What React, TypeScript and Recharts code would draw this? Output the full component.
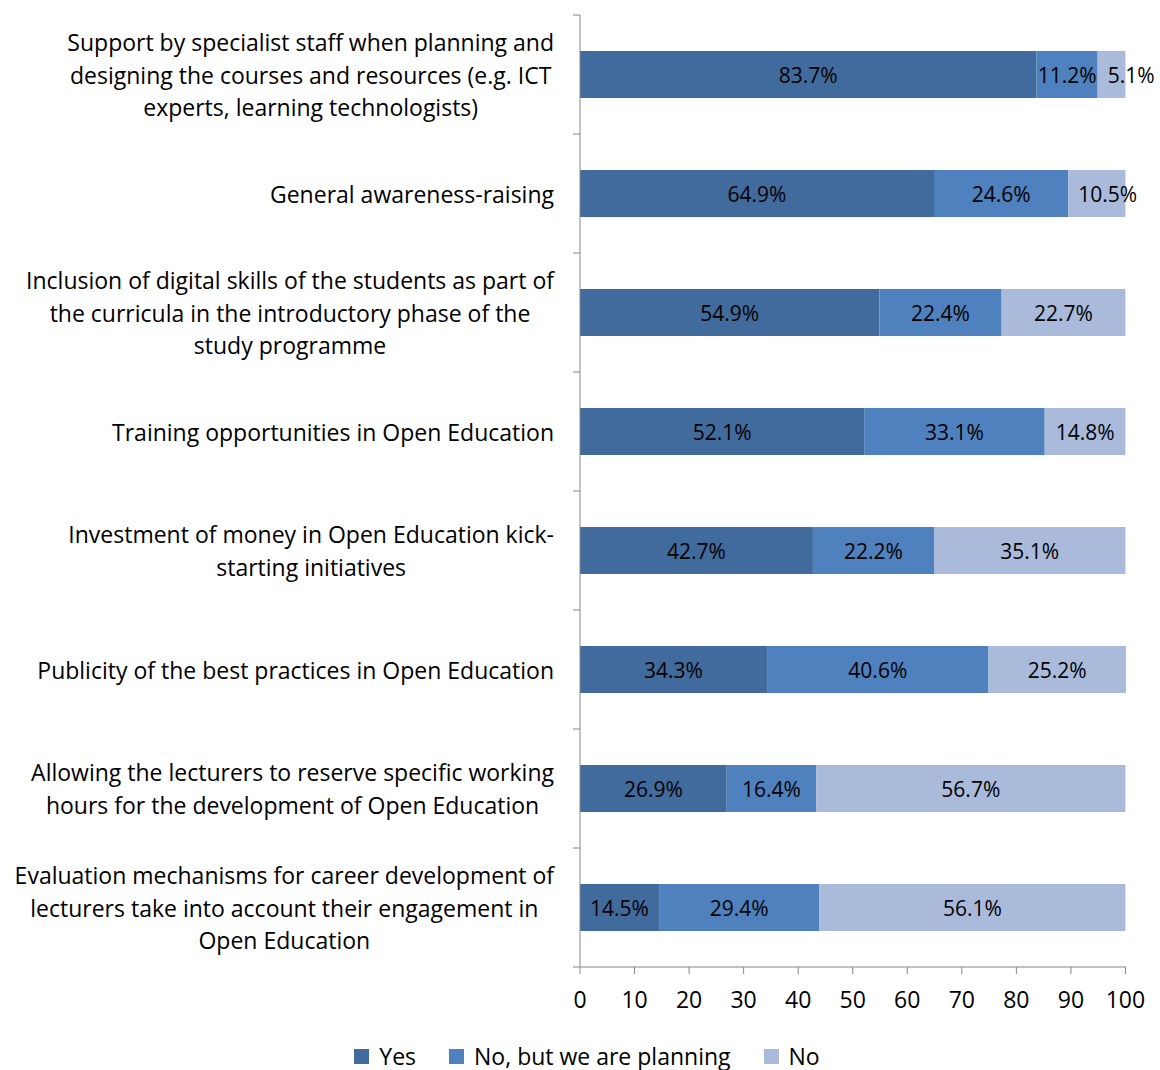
import { BarChart, Bar, XAxis, YAxis, Legend, LabelList } from "recharts";

const categories = [
  "Support by specialist staff when planning and\ndesigning the courses and resources (e.g. ICT\nexperts, learning technologists)",
  "General awareness-raising",
  "Inclusion of digital skills of the students as part of\nthe curricula in the introductory phase of the\nstudy programme",
  "Training opportunities in Open Education",
  "Investment of money in Open Education kick-\nstarting initiatives",
  "Publicity of the best practices in Open Education",
  "Allowing the lecturers to reserve specific working\nhours for the development of Open Education",
  "Evaluation mechanisms for career development of\nlecturers take into account their engagement in\nOpen Education",
];

const yes = [83.7, 64.9, 54.9, 52.1, 42.7, 34.3, 26.9, 14.5];
const planning = [11.2, 24.6, 22.4, 33.1, 22.2, 40.6, 16.4, 29.4];
const no = [5.1, 10.5, 22.7, 14.8, 35.1, 25.2, 56.7, 56.1];

const xTicks = [0, 10, 20, 30, 40, 50, 60, 70, 80, 90, 100];

const series = [
  { key: "yes", name: "Yes", color: "#426b9d" },
  { key: "planning", name: "No, but we are planning", color: "#4e81bd" },
  { key: "no", name: "No", color: "#a9badb" },
];

const data = categories.map((name, i) => ({
  name,
  yes: yes[i],
  planning: planning[i],
  no: no[i],
}));

const FONT = '"Open Sans", sans-serif';
const TEXT_SIZE = 23;
const LABEL_SIZE = 21;
const PLOT_TOP = 15;
const PLOT_BOTTOM = 967;
const BAND = (PLOT_BOTTOM - PLOT_TOP) / categories.length;
const AXIS_GRAY = "#868686";

let ctx: CanvasRenderingContext2D | null = null;
const measure = (s: string, size: number) => {
  if (!ctx) ctx = document.createElement("canvas").getContext("2d");
  if (!ctx) return s.length * size * 0.55;
  ctx.font = `${size}px "Open Sans"`;
  return ctx.measureText(s).width;
};

const CategoryTick = (props: any) => {
  const { x, y, payload, index } = props;
  const lines: string[] = String(payload.value).split("\n");
  const maxW = Math.max(...lines.map((l) => measure(l, TEXT_SIZE)));
  const cx = x - maxW / 2;
  const axisX = x + 26;
  return (
    <g>
      <line x1={axisX - 7} x2={axisX} y1={y - BAND / 2} y2={y - BAND / 2} stroke={AXIS_GRAY} />
      {index === categories.length - 1 && (
        <line x1={axisX - 7} x2={axisX} y1={y + BAND / 2} y2={y + BAND / 2} stroke={AXIS_GRAY} />
      )}
      {lines.map((l, i) => (
        <text
          key={i}
          x={cx}
          y={y + (i - (lines.length - 1) / 2) * 32.5}
          textAnchor="middle"
          dominantBaseline="central"
          fontSize={TEXT_SIZE}
          fontFamily={FONT}
          fill="#000"
        >
          {l}
        </text>
      ))}
    </g>
  );
};

// centred value label; a segment too narrow for its text gets it pushed past the bar end
const ValueLabel = (props: any) => {
  const { x, y, width, height, value } = props;
  const txt = `${Number(value).toFixed(1)}%`;
  const w = measure(txt, LABEL_SIZE);
  const narrow = width < w;
  return (
    <text
      x={narrow ? x + 10 : x + width / 2}
      y={y + height / 2}
      textAnchor={narrow ? "start" : "middle"}
      dominantBaseline="central"
      fontSize={LABEL_SIZE}
      fontFamily={FONT}
      fill="#000"
    >
      {txt}
    </text>
  );
};

const LegendContent = () => (
  <div
    style={{
      display: "flex",
      justifyContent: "center",
      alignItems: "center",
      gap: 33,
      fontFamily: FONT,
      fontSize: TEXT_SIZE,
      color: "#000",
      paddingTop: 10,
      paddingLeft: 48,
    }}
  >
    {series.map((s) => (
      <span key={s.key} style={{ display: "flex", alignItems: "center" }}>
        <span
          style={{ width: 15, height: 15, background: s.color, marginRight: 10, display: "inline-block" }}
        />
        {s.name}
      </span>
    ))}
  </div>
);

export default function App() {
  return (
    <div style={{ position: "absolute", left: 0, top: 0, background: "#fff" }}>
      <BarChart
        width={1160}
        height={1070}
        data={data}
        layout="vertical"
        margin={{ top: PLOT_TOP, right: 34, bottom: 0, left: 0 }}
        barSize={47}
      >
        <XAxis
          type="number"
          domain={[0, 100]}
          ticks={xTicks}
          interval={0}
          height={63}
          stroke={AXIS_GRAY}
          tickSize={7}
          tickMargin={18}
          tick={{ fill: "#000", fontSize: TEXT_SIZE, fontFamily: FONT }}
        />
        <YAxis
          type="category"
          dataKey="name"
          width={580}
          stroke={AXIS_GRAY}
          tickLine={false}
          tickSize={0}
          tickMargin={26}
          interval={0}
          tick={<CategoryTick />}
        />
        <Legend
          verticalAlign="bottom"
          wrapperStyle={{ height: 40 }}
          content={<LegendContent />}
        />
        {series.map((s) => (
          <Bar
            key={s.key}
            dataKey={s.key}
            name={s.name}
            stackId="a"
            fill={s.color}
            isAnimationActive={false}
          >
            <LabelList dataKey={s.key} content={<ValueLabel />} />
          </Bar>
        ))}
      </BarChart>
    </div>
  );
}
